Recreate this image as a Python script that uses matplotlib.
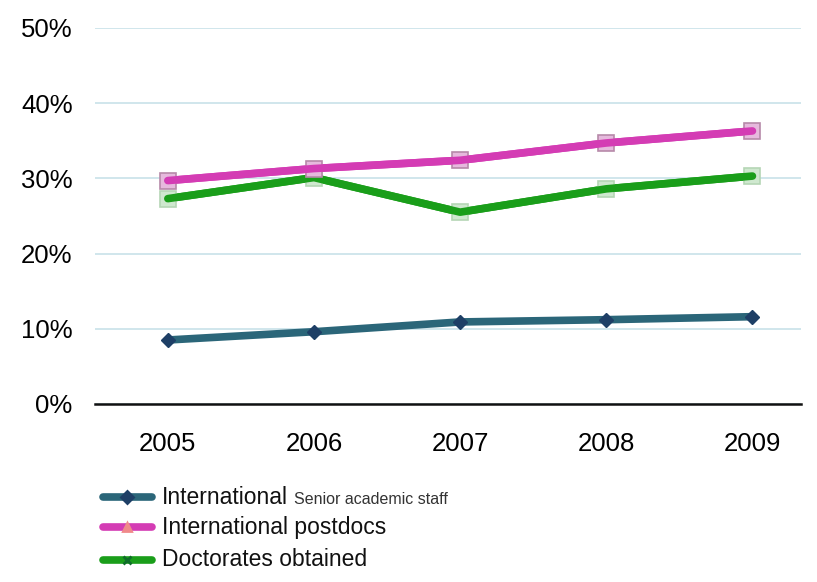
import matplotlib
matplotlib.use("Agg")
import matplotlib.pyplot as plt
from matplotlib.lines import Line2D

plt.rcParams['font.family'] = ['Liberation Sans', 'DejaVu Sans']

# data (percent)
years = ['2005', '2006', '2007', '2008', '2009']
senior_staff = [8.5, 9.6, 10.9, 11.2, 11.6]
postdocs = [29.7, 31.3, 32.4, 34.7, 36.3]
doctorates = [27.3, 30.1, 25.5, 28.6, 30.3]
y_ticks = [0, 10, 20, 30, 40, 50]

fig = plt.figure(figsize=(8.17, 5.82), dpi=100)
ax = fig.add_axes([0.116, 0.306, 0.864, 0.646])

x = range(len(years))

# green first so magenta sits on top
ax.plot(x, doctorates, color='#1a9e1a', lw=5.5, solid_capstyle='round', zorder=3,
        marker='s', ms=12, mfc='#cfe8cf', mec='#b5d6b5', mew=1.2)
ax.plot(x, postdocs, color='#d43cb4', lw=5.5, solid_capstyle='round', zorder=4,
        marker='s', ms=12, mfc='#e6b9dd', mec='#b68aa9', mew=1.2)
ax.plot(x, senior_staff, color='#2b6679', lw=5.5, solid_capstyle='round', zorder=5,
        marker='D', ms=7, mfc='#1e3f66', mec='#1e3f66')
# redraw the line segments over the square markers
ax.plot(x, doctorates, color='#1a9e1a', lw=5.5, solid_capstyle='round', zorder=3.5)
ax.plot(x, postdocs, color='#d43cb4', lw=5.5, solid_capstyle='round', zorder=4.5)

ax.set_xlim(-0.5, len(years) - 0.67)
ax.set_ylim(0, 50)
ax.set_yticks(y_ticks)
ax.set_yticklabels([f'{v}%' for v in y_ticks], fontsize=18.5)
ax.set_xticks(list(x))
ax.set_xticklabels(years, fontsize=18.5)
ax.tick_params(length=0)
ax.tick_params(axis='x', pad=20)
ax.tick_params(axis='y', pad=16)

ax.grid(axis='y', color='#cde4ea', lw=1.3)
ax.set_axisbelow(True)
for s in ['left', 'right', 'top']:
    ax.spines[s].set_visible(False)
ax.spines['bottom'].set_color('#111111')
ax.spines['bottom'].set_linewidth(1.8)

# legend drawn by hand, one row per series
legend_rows = [
    ('#2b6679', 'D', '#1e3f66', 'International', 'Senior academic staff'),
    ('#d43cb4', '^', '#f08a8a', 'International postdocs', ''),
    ('#1a9e1a', 'x', '#0f6e2a', 'Doctorates obtained', ''),
]
row_y = [0.146, 0.094, 0.038]
for (col, mk, mcol, lab, extra), yy in zip(legend_rows, row_y):
    fig.add_artist(Line2D([0.126, 0.186], [yy, yy], color=col, lw=5.5,
                          solid_capstyle='round', transform=fig.transFigure))
    fig.add_artist(Line2D([0.156], [yy], marker=mk, ms=6, color=mcol, mec=mcol,
                          mew=2, transform=fig.transFigure))
    t = fig.text(0.198, yy, lab, fontsize=16.5, va='center', color='#111111')
    if extra:
        fig.canvas.draw()
        bb = t.get_window_extent().transformed(fig.transFigure.inverted())
        fig.text(bb.x1 + 0.008, yy - 0.004, extra, fontsize=11.5, va='center', color='#333333')

fig.savefig('out.png', dpi=100)
